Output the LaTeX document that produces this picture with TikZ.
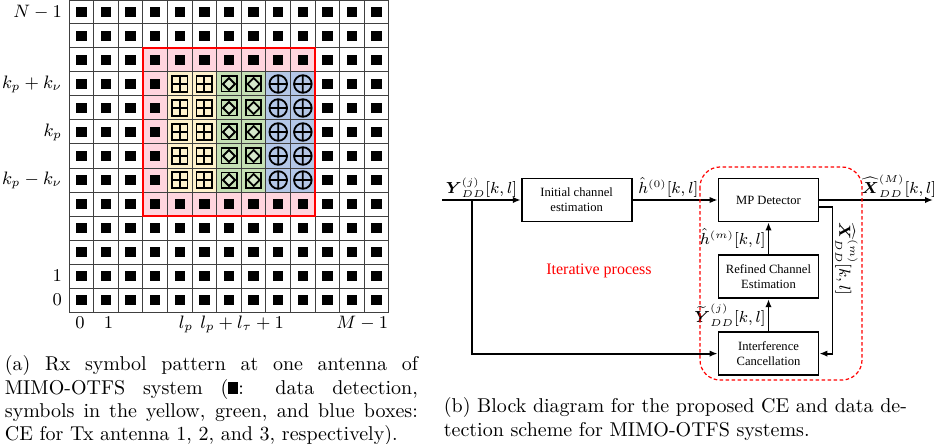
\documentclass[tikz,border=0pt]{standalone}
\usepackage{amsmath,amssymb}
\usepackage{fontspec}
\newfontfamily\timesfont{Liberation Serif}
\usetikzlibrary{arrows.meta,positioning}
\definecolor{pinkbg}{RGB}{255,213,222}
\definecolor{yellowbg}{RGB}{255,242,204}
\definecolor{greenbg}{RGB}{197,224,180}
\definecolor{bluebg}{RGB}{180,199,231}
\tikzset{
  block/.style   = {draw, rectangle, align=center, minimum width=50pt, minimum height=21.5pt, inner sep=1pt, font=\fontsize{6.3}{7.5}\timesfont},
  lbl/.style     = {font=\fontsize{7.6}{9.1}\selectfont, inner sep=1pt},
  axislbl/.style = {font=\fontsize{9}{10.8}\selectfont, inner sep=0pt},
  pilot/.style   = {line width=0.9pt},
  caption/.style = {font=\fontsize{10}{11.65}\selectfont, inner sep=0pt, anchor=north west}
}

\begin{document}
\begin{tikzpicture}[x=0.5pt, y=-0.5pt, line width=0.9pt,
  >={Latex[length=4pt,width=3.2pt]}]
\useasboundingbox (0,0) rectangle (937,444);

% (a) Rx symbol grid, one unit per cell
\begin{scope}[shift={(34.5pt,-156pt)}, x=12.3077pt, y=12pt]
  \fill[pinkbg] (3,4) rectangle (10,11);
  \fill[yellowbg] (4,5) rectangle (6,10);
  \fill[greenbg] (6,5) rectangle (8,10);
  \fill[bluebg] (8,5) rectangle (10,10);
  \draw[line width=0.5pt, black!75, step=1] (0,0) grid (13,13);
  \draw[red, line width=1.1pt] (3,4) rectangle (10,11);

  % data symbols
  \foreach \i in {0,...,12}
    \foreach \j in {0,...,12}{
      \pgfmathtruncatemacro\ispilot{(\i>3)*(\i<10)*(\j>4)*(\j<10)}
      \ifnum\ispilot=0
        \fill (\i+0.5,\j+0.5) +(-2.6pt,-2.6pt) rectangle +(2.6pt,2.6pt);
      \fi
    }

  % pilot symbols of Tx antenna 1, 2 and 3
  \foreach \j in {5,...,9}{
    \foreach \i in {4,5}{
      \coordinate (c) at (\i+0.5,\j+0.5);
      \draw[pilot] (c) +(-3.9pt,-3.9pt) rectangle +(3.9pt,3.9pt)
        +(-3.9pt,0) -- +(3.9pt,0) +(0,-3.9pt) -- +(0,3.9pt);
    }
    \foreach \i in {6,7}{
      \coordinate (c) at (\i+0.5,\j+0.5);
      \draw[pilot] (c) +(-3.8pt,-3.8pt) rectangle +(3.8pt,3.8pt);
      \draw[pilot, fill=greenbg!70] (c) +(-3pt,0) -- +(0,3pt) -- +(3pt,0) -- +(0,-3pt) -- cycle;
    }
    \foreach \i in {8,9}{
      \coordinate (c) at (\i+0.5,\j+0.5);
      \draw[pilot] (c) circle[radius=4.4pt] (c) +(-4.4pt,0) -- +(4.4pt,0) +(0,-4.4pt) -- +(0,4.4pt);
    }
  }

  % axis labels
  \node[axislbl, anchor=east] (rN)  at (-0.25,12.5) {$N-1$};
  \node[axislbl, anchor=east] (rkp) at (-0.25,9.5) {$k_p+k_\nu$};
  \node[axislbl, anchor=east] (rk)  at (-0.25,7.5) {$k_p$};
  \node[axislbl, anchor=east] (rkm) at (-0.25,5.5) {$k_p-k_\nu$};
  \node[axislbl, anchor=east] (r1)  at (-0.25,1.5) {$1$};
  \node[axislbl, anchor=east] (r0)  at (-0.25,0.5) {$0$};
  \node[axislbl, anchor=base] (c0)  at (0.45,-0.68) {$0$};
  \node[axislbl, anchor=base] (c1)  at (1.6,-0.68) {$1$};
  \node[axislbl, anchor=base] (clp) at (4.75,-0.68) {$l_p$};
  \node[axislbl, anchor=base west] (clt) at (5.3,-0.68) {$l_p+l_\tau+1$};
  \node[axislbl, anchor=base east] (cM) at (13,-0.68) {$M-1$};
\end{scope}

% (b) block diagram
\node[block] (mp) at (768.5,200) {MP Detector};
\node[block, below=16pt of mp] (refine) {Refined Channel\\Estimation};
\node[block, below=16pt of refine] (ic) {Interference\\Cancellation};
\node[block, minimum width=55pt, left=42.5pt of mp] (init) {Initial channel\\estimation};

\coordinate (in) at (442,200);
\coordinate (split) at (472,200);
\coordinate (out) at (933,200);

\draw[->] (in) -- node[lbl, above] (ylbl) {$\boldsymbol{Y}_{DD}^{(j)}[k,l]$} (init);
\draw[->] (split) |- (ic);
\draw[->] (init) -- node[lbl, above, pos=0.42] (h0lbl) {$\hat{h}^{(0)}[k,l]$} (mp);
\draw[->] (mp) -- node[lbl, above, pos=0.7] (xlbl) {$\widehat{\boldsymbol{X}}_{DD}^{(M)}[k,l]$} (out);
\draw[->] (refine) -- node[lbl, left] (hmlbl) {$\hat{h}^{(m)}[k,l]$} (mp);
\draw[->] (ic) -- node[lbl, left] (ytlbl) {$\widetilde{\boldsymbol{Y}}_{DD}^{(j)}[k,l]$} (refine);
\draw[->] ([yshift=-3.5pt]mp.east) -- ++(6.5pt,0) coordinate (fb) |- (ic.east);
\node[lbl, rotate=-90, anchor=south] (xmlbl) at ([yshift=-26pt]fb) {$\widehat{\boldsymbol{X}}_{DD}^{(m)}[k,l]$};

% iterative loop
\draw[red, line width=0.6pt, dash pattern=on 1.8pt off 1.2pt, rounded corners=10pt]
  (700,167) rectangle (862,380);
\node[font=\fontsize{8}{9.6}\timesfont, text=red] (iter) at (599,271) {Iterative process};

% captions
\node[caption, text width=206.5pt, align=justify] (capa) at (4,355)
  {(a) Rx symbol pattern at one antenna of\linebreak
   MIMO-OTFS system (\rule{5pt}{6pt}: data detection,\linebreak
   symbols in the yellow, green, and blue boxes:\linebreak
   CE for Tx antenna 1, 2, and 3, respectively).};
\node[caption, align=left] (capb) at (443,397)
  {(b) Block diagram for the proposed CE and data de-\\
   tection scheme for MIMO-OTFS systems.};
\end{tikzpicture}
\end{document}
